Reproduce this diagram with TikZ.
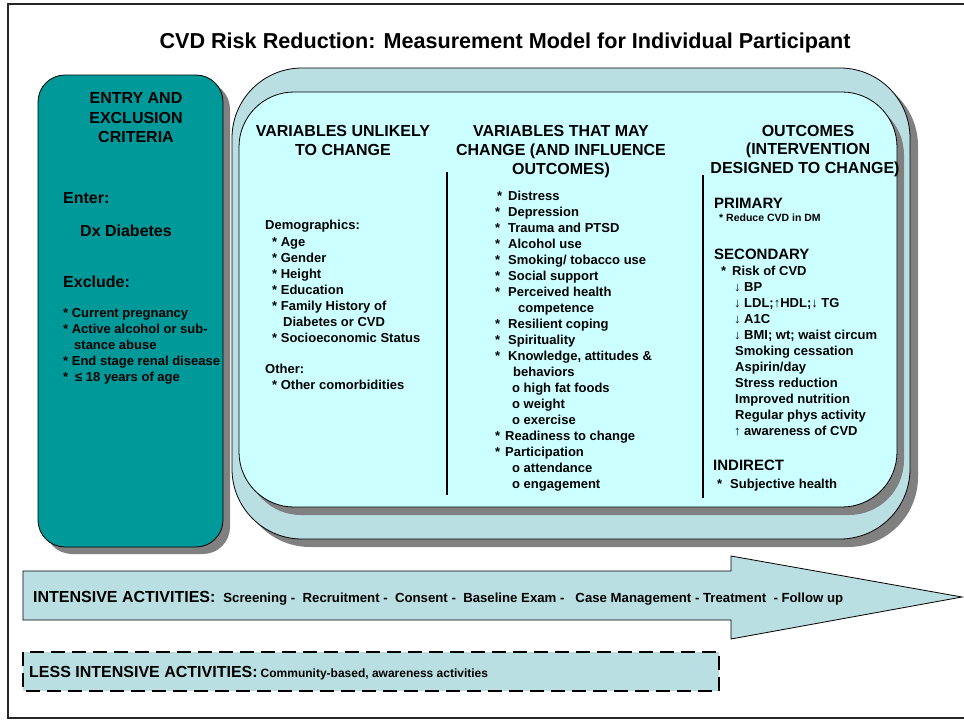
\documentclass[tikz,border=0pt]{standalone}
\usepackage{fontspec}
\setmainfont{Liberation Sans}
\definecolor{tealbox}{RGB}{0,153,153}
\definecolor{band}{RGB}{185,223,227}
\definecolor{inner}{RGB}{204,255,255}
\definecolor{shad}{RGB}{128,128,128}
\tikzset{
  bl/.style={anchor=base west, inner sep=0pt},
  bc/.style={anchor=base, inner sep=0pt},
  f10/.style={font=\fontsize{10.5}{12}\selectfont\bfseries},
  f13/.style={font=\fontsize{13}{16}\selectfont\bfseries},
  f15/.style={font=\fontsize{15}{18}\selectfont\bfseries},
  f16/.style={font=\fontsize{16}{19}\selectfont\bfseries},
  f21/.style={font=\fontsize{21.6}{25}\selectfont\bfseries},
  boxline/.style={draw=black, line width=0.8pt},
  divider/.style={draw=black, line width=1.8pt},
}
\newcommand\myast[1]{\makebox[#1][l]{*}}
\newcommand\myarr[2]{\makebox[#1][l]{#2}}
\begin{document}
\begin{tikzpicture}[x=1pt,y=-1pt]
\useasboundingbox (0,0) rectangle (964,721);
% outer frame
\draw[line width=1.6pt, black!85] (8,4) rectangle (980,718);
% title
\node[bc,f21] (title) at (505,48.5) {CVD Risk Reduction: Measurement Model for Individual Participant};

% teal box
\fill[shad, rounded corners=27pt] (45,82) rectangle (230,554);
\path[fill=tealbox, boxline, rounded corners=27pt] (38,75) rectangle (223,547);
\node[bc,f16] (e1) at (136,103) {ENTRY AND};
\node[bc,f16] (e2) at (136,123) {EXCLUSION};
\node[bc,f16] (e3) at (136,142) {CRITERIA};
\node[bl,f16] (enter) at (63,203) {Enter:};
\node[bl,f16] (dx) at (80,236) {Dx Diabetes};
\node[bl,f16] (excl) at (63,287) {Exclude:};
\node[bl,f13] (x1) at (63,317) {* Current pregnancy};
\node[bl,f13] (x2) at (63,333) {* Active alcohol or sub-};
\node[bl,f13] (x3) at (74,349) {stance abuse};
\node[bl,f13] (x4) at (63,365) {* End stage renal disease};
\node[bl,f13] (x5) at (63,381) {\myast{12pt}≤ 18 years of age};

% outer light box
\fill[shad, rounded corners=70pt] (240,76) rectangle (918,547);
\path[fill=band, boxline, rounded corners=70pt] (232,68) rectangle (910,539);
% inner box
\fill[shad, rounded corners=55pt] (246,100) rectangle (904,515);
\path[fill=inner, boxline, rounded corners=55pt] (239,92) rectangle (897,507);

% dividers
\coordinate (d1t) at (447,172);
\coordinate (d1b) at (447,495);
\coordinate (d2t) at (703,175);
\coordinate (d2b) at (703,498);
\draw[divider] (d1t) -- (d1b);
\draw[divider] (d2t) -- (d2b);

% column 1
\node[bc,f16] (h1a) at (343,136) {VARIABLES UNLIKELY};
\node[bc,f16] (h1b) at (343,155) {TO CHANGE};
\node[bl,f13] (c1a) at (265,229) {Demographics:};
\node[bl,f13] (c1b) at (272,246) {* Age};
\node[bl,f13] (c1c) at (272,262) {* Gender};
\node[bl,f13] (c1d) at (272,278) {* Height};
\node[bl,f13] (c1e) at (272,294) {* Education};
\node[bl,f13] (c1f) at (272,310) {* Family History of};
\node[bl,f13] (c1g) at (283,326) {Diabetes or CVD};
\node[bl,f13] (c1h) at (272,342) {* Socioeconomic Status};
\node[bl,f13] (c1i) at (265,373) {Other:};
\node[bl,f13] (c1j) at (272,389) {* Other comorbidities};

% column 2
\node[bc,f16] (h2a) at (561,136) {VARIABLES THAT MAY};
\node[bc,f16] (h2b) at (561,155) {CHANGE (AND INFLUENCE};
\node[bc,f16] (h2c) at (561,174) {OUTCOMES)};
\node[bl,f13] (c2a) at (497,200) {\myast{11pt}Distress};
\node[bl,f13] (c2b) at (495,216) {\myast{13pt}Depression};
\node[bl,f13] (c2c) at (495,232) {\myast{13pt}Trauma and PTSD};
\node[bl,f13] (c2d) at (495,248) {\myast{13pt}Alcohol use};
\node[bl,f13] (c2e) at (495,264) {\myast{13pt}Smoking/ tobacco use};
\node[bl,f13] (c2f) at (495,280) {\myast{13pt}Social support};
\node[bl,f13] (c2g) at (495,296) {\myast{13pt}Perceived health};
\node[bl,f13] (c2h) at (518,312) {competence};
\node[bl,f13] (c2i) at (495,328) {\myast{13pt}Resilient coping};
\node[bl,f13] (c2j) at (495,344) {\myast{13pt}Spirituality};
\node[bl,f13] (c2k) at (495,360) {\myast{13pt}Knowledge, attitudes \&};
\node[bl,f13] (c2l) at (513,376) {behaviors};
\node[bl,f13] (c2m) at (512,392) {o high fat foods};
\node[bl,f13] (c2n) at (512,408) {o weight};
\node[bl,f13] (c2o) at (512,424) {o exercise};
\node[bl,f13] (c2p) at (495,440) {\myast{10pt}Readiness to change};
\node[bl,f13] (c2q) at (495,456) {\myast{10pt}Participation};
\node[bl,f13] (c2r) at (512,472) {o attendance};
\node[bl,f13] (c2s) at (512,488) {o engagement};

% column 3
\node[bc,f16] (h3a) at (808,136) {OUTCOMES};
\node[bc,f16] (h3b) at (808,154) {(INTERVENTION};
\node[bc,f16] (h3c) at (805,173) {DESIGNED TO CHANGE)};
\node[bl,f15] (p1) at (714,208.4) {PRIMARY};
\node[bl,f10] (p2) at (719,221.6) {* Reduce CVD in DM};
\node[bl,f15] (s1) at (714,259.4) {SECONDARY};
\node[bl,f13] (s2) at (721,275) {\myast{11pt}Risk of CVD};
\node[bl,f13] (s3) at (734,291) {\myarr{10pt}{↓}BP};
\node[bl,f13] (s4) at (734,307) {\myarr{10pt}{↓}LDL;↑HDL;↓ TG};
\node[bl,f13] (s5) at (734,323) {\myarr{10pt}{↓}A1C};
\node[bl,f13] (s6) at (734,339) {\myarr{10pt}{↓}BMI; wt; waist circum};
\node[bl,f13] (s7) at (735,355) {Smoking cessation};
\node[bl,f13] (s8) at (735,371) {Aspirin/day};
\node[bl,f13] (s9) at (735,387) {Stress reduction};
\node[bl,f13] (s10) at (735,403) {Improved nutrition};
\node[bl,f13] (s11) at (735,419) {Regular phys activity};
\node[bl,f13] (s12) at (734,435) {\myarr{10pt}{↑}awareness of CVD};
\node[bl,f15] (i1) at (713,470.4) {INDIRECT};
\node[bl,f13] (i2) at (717,488) {\myast{13pt}Subjective health};

% intensive arrow
\path[fill=band, boxline] (23,571) -- (731,571) -- (731,556) -- (962,597)
  -- (731,639) -- (731,620) -- (23,620) -- cycle;
\node[bl] (int) at (33,602) {{\fontsize{16}{19}\selectfont\bfseries INTENSIVE ACTIVITIES:}\hspace{8pt}{\fontsize{13.2}{15}\selectfont\bfseries Screening -~ Recruitment -~ Consent -~ Baseline Exam -~~ Case Management - Treatment~ - Follow up}};

% less intensive box
\path[fill=band, draw=black, line width=2pt, dash pattern=on 14pt off 7pt] (23,652) rectangle (719,691);
\node[bl] (less) at (29,677) {{\fontsize{16}{19}\selectfont\bfseries LESS INTENSIVE ACTIVITIES:}\hspace{3pt}{\fontsize{12}{14}\selectfont\bfseries Community-based, awareness activities}};
\end{tikzpicture}
\end{document}
